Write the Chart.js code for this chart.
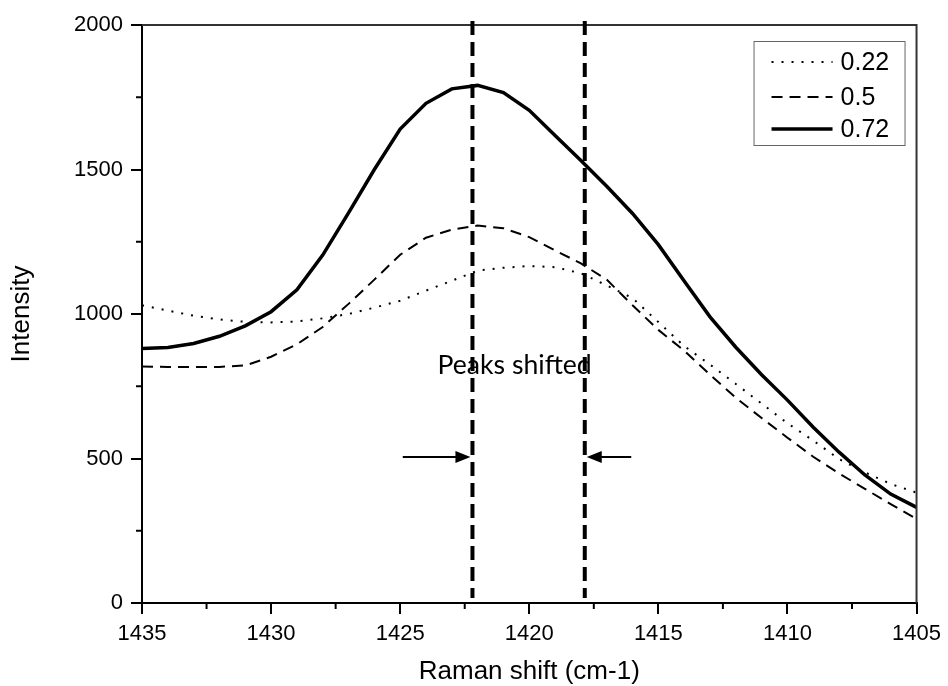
<!DOCTYPE html>
<html>
<head>
<meta charset="utf-8">
<script src="https://cdn.jsdelivr.net/npm/chart.js@4.4.1/dist/chart.umd.min.js"></script>
<style>
  html, body { margin: 0; padding: 0; background: #fff; }
</style>
</head>
<body>
<canvas id="ramanChart" width="948" height="686"></canvas>
<script>
// Raman shift (cm-1) sampling, shared by the three spectra
const ramanShift = [1435, 1434, 1433, 1432, 1431, 1430, 1429, 1428, 1427, 1426, 1425,
  1424, 1423, 1422, 1421, 1420, 1419, 1418, 1417, 1416, 1415,
  1414, 1413, 1412, 1411, 1410, 1409, 1408, 1407, 1406, 1405];

const intensity022 = [1030, 1012, 994, 981, 973, 971, 974, 985, 1000, 1022, 1046,
  1081, 1115, 1150, 1160, 1166, 1162, 1141, 1099, 1055, 972,
  889, 825, 758, 690, 622, 562, 498, 452, 412, 382];

const intensity05 = [818, 817, 817, 817, 822, 852, 895, 955, 1035, 1119, 1205,
  1264, 1292, 1306, 1297, 1266, 1220, 1175, 1119, 1030, 945,
  873, 790, 710, 640, 572, 506, 448, 395, 342, 291];

const intensity072 = [881, 884, 898, 923, 959, 1008, 1084, 1204, 1350, 1500, 1640,
  1729, 1779, 1791, 1766, 1705, 1618, 1531, 1442, 1348, 1240,
  1114, 990, 885, 790, 702, 608, 522, 443, 377, 331];

const seriesLabels = ["0.22", "0.5", "0.72"];

const xTickValues = [1435, 1430, 1425, 1420, 1415, 1410, 1405];
const yTickValues = [0, 500, 1000, 1500, 2000];

// annotation: the two peak positions and the arrows pointing at them
const peakPositions = [1422.2, 1417.85];
const arrowTails = [1424.9, 1416.05];
const arrowLevel = 505;
const noteText = "Peaks shifted";

const toPoints = (ys) => ys.map((v, i) => ({ x: ramanShift[i], y: v }));

const decorPlugin = {
  id: "decor",
  afterDatasetsDraw(chart) {
    const { ctx, chartArea: a, scales: { x, y } } = chart;
    ctx.save();

    // top and right frame
    ctx.strokeStyle = "#333";
    ctx.lineWidth = 2;
    ctx.beginPath();
    ctx.moveTo(a.left, a.top);
    ctx.lineTo(a.right, a.top);
    ctx.lineTo(a.right, a.bottom);
    ctx.stroke();

    // "Peaks shifted"
    ctx.fillStyle = "#000";
    ctx.font = "100px Lato";
    const scale = 154 / ctx.measureText(noteText).width;
    ctx.font = (100 * scale).toFixed(1) + "px Lato";
    ctx.textAlign = "center";
    ctx.textBaseline = "alphabetic";
    ctx.fillText(noteText, (x.getPixelForValue(peakPositions[0]) + x.getPixelForValue(peakPositions[1])) / 2 - 14, 374);

    // vertical dashed peak markers
    ctx.strokeStyle = "#000";
    ctx.lineWidth = 4;
    ctx.setLineDash([14, 7]);
    peakPositions.forEach((p) => {
      const px = x.getPixelForValue(p);
      ctx.beginPath();
      ctx.moveTo(px, a.top - 4);
      ctx.lineTo(px, a.bottom - 5);
      ctx.stroke();
    });
    ctx.setLineDash([]);

    // arrows
    const ay = y.getPixelForValue(arrowLevel);
    ctx.lineWidth = 2;
    arrowTails.forEach((t, i) => {
      const tx = x.getPixelForValue(t);
      const hx = x.getPixelForValue(peakPositions[i]) + (tx < x.getPixelForValue(peakPositions[i]) ? -2 : 2);
      const dir = hx > tx ? 1 : -1;
      ctx.beginPath();
      ctx.moveTo(tx, ay);
      ctx.lineTo(hx - dir * 10, ay);
      ctx.stroke();
      ctx.beginPath();
      ctx.moveTo(hx, ay);
      ctx.lineTo(hx - dir * 15, ay - 6);
      ctx.lineTo(hx - dir * 15, ay + 6);
      ctx.closePath();
      ctx.fill();
    });

    // legend box
    const bx = a.right - 163, by = a.top + 16, bw = 151, bh = 104;
    ctx.strokeStyle = "#666";
    ctx.lineWidth = 1;
    ctx.strokeRect(bx + 0.5, by + 0.5, bw, bh);
    const rows = [21, 56, 88];
    ctx.font = "25px 'Liberation Sans', Arial, sans-serif";
    ctx.textAlign = "left";
    ctx.textBaseline = "middle";
    chart.data.datasets.forEach((ds, i) => {
      const ry = by + rows[i];
      ctx.strokeStyle = "#000";
      ctx.lineWidth = ds.borderWidth;
      ctx.setLineDash(ds.borderDash || []);
      ctx.beginPath();
      ctx.moveTo(bx + 18, ry);
      ctx.lineTo(bx + 79, ry);
      ctx.stroke();
      ctx.setLineDash([]);
      ctx.fillText(ds.label, bx + 87, ry + 1);
    });

    // minor ticks
    ctx.strokeStyle = "#000";
    ctx.lineWidth = 2;
    for (let i = 0; i < xTickValues.length - 1; i++) {
      const px = x.getPixelForValue((xTickValues[i] + xTickValues[i + 1]) / 2);
      ctx.beginPath();
      ctx.moveTo(px, a.bottom);
      ctx.lineTo(px, a.bottom + 6);
      ctx.stroke();
    }
    for (let i = 0; i < yTickValues.length - 1; i++) {
      const py = y.getPixelForValue((yTickValues[i] + yTickValues[i + 1]) / 2);
      ctx.beginPath();
      ctx.moveTo(a.left, py);
      ctx.lineTo(a.left - 6, py);
      ctx.stroke();
    }

    ctx.restore();
  }
};

const tickFont = { family: "'Liberation Sans', Arial, sans-serif", size: 22 };
const titleFont = { family: "'Liberation Sans', Arial, sans-serif", size: 26, lineHeight: 1.1 };

new Chart(document.getElementById("ramanChart"), {
  type: "line",
  data: {
    datasets: [
      {
        label: seriesLabels[0],
        data: toPoints(intensity022),
        borderColor: "#000",
        borderWidth: 2,
        borderDash: [2, 8],
        pointRadius: 0,
        tension: 0,
      },
      {
        label: seriesLabels[1],
        data: toPoints(intensity05),
        borderColor: "#000",
        borderWidth: 2,
        borderDash: [11, 7],
        pointRadius: 0,
        tension: 0,
      },
      {
        label: seriesLabels[2],
        data: toPoints(intensity072),
        borderColor: "#000",
        borderWidth: 3.5,
        pointRadius: 0,
        tension: 0,
      },
    ],
  },
  options: {
    responsive: false,
    animation: false,
    devicePixelRatio: 1,
    layout: { padding: { top: 25, right: 27, left: 0, bottom: 0 } },
    plugins: {
      legend: { display: false },
      tooltip: { enabled: false },
    },
    scales: {
      x: {
        type: "linear",
        reverse: true,
        min: 1405,
        max: 1435,
        afterBuildTicks: (s) => { s.ticks = xTickValues.map((v) => ({ value: v })); },
        afterFit: (s) => { s.height = 83; },
        grid: { drawOnChartArea: false, tickLength: 11, color: "#000", lineWidth: 2 },
        border: { color: "#000", width: 2 },
        ticks: {
          color: "#000", font: tickFont, padding: 7, maxRotation: 0, autoSkip: false,
          callback: (v) => String(v),
        },
        title: {
          display: true,
          text: "Raman shift (cm-1)",
          color: "#000",
          font: titleFont,
          padding: { top: 0, bottom: 0 },
        },
      },
      y: {
        min: 0,
        max: 2000,
        afterBuildTicks: (s) => { s.ticks = yTickValues.map((v) => ({ value: v })); },
        afterFit: (s) => { s.width = 142; },
        grid: { drawOnChartArea: false, tickLength: 11, color: "#000", lineWidth: 2 },
        border: { color: "#000", width: 2 },
        ticks: { color: "#000", font: tickFont, padding: 8, callback: (v) => String(v) },
        title: {
          display: true,
          text: "Intensity",
          color: "#000",
          font: titleFont,
          padding: { top: 8, bottom: 0 },
        },
      },
    },
  },
  plugins: [decorPlugin],
});
</script>
</body>
</html>
